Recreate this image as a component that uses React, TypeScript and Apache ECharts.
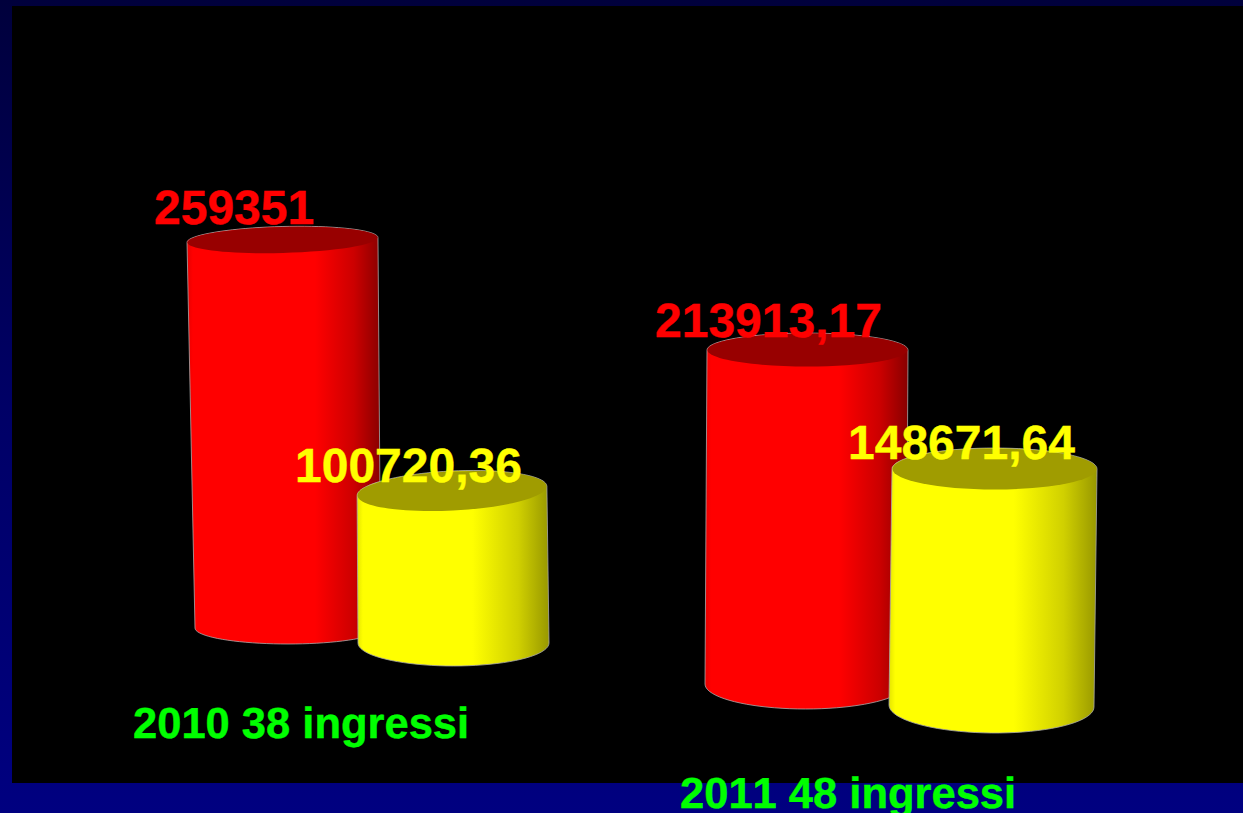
import React, { useEffect, useRef } from "react";
import * as echarts from "echarts";

const redValues = [259351, 213913.17];
const yellowValues = [100720.36, 148671.64];
const redLabels = ["259351", "213913,17"];
const yellowLabels = ["100720,36", "148671,64"];
const categoryLabels = ["2010 38 ingressi", "2011 48 ingressi"];

const FONT = '"Liberation Sans", Arial, sans-serif';
const RED = {
  text: "#ff0000",
  top: "#980000",
  stops: [
    [0, "#e60000"],
    [0.03, "#ff0000"],
    [0.66, "#ff0000"],
    [0.86, "#cc0000"],
    [1, "#880000"],
  ],
};
const YELLOW = {
  text: "#ffff00",
  top: "#a09c00",
  stops: [
    [0, "#e6e600"],
    [0.03, "#ffff00"],
    [0.6, "#ffff00"],
    [0.84, "#d0d000"],
    [1, "#989800"],
  ],
};

const GRID_H = 420;
// Perspective layout of each cylinder (one hidden grid per cylinder).
const layouts = [
  { left: 195, width: 186, baseY: 628, baseRy: 16, baseRot: 0, topL: -8, topR: -3, topRy: 13.5, topRot: 0.026, pxPerUnit: 0.001496, labelX: 154, labelBase: 222, palette: RED },
  { left: 358, width: 191, baseY: 643, baseRy: 23, baseRot: 0, topL: -1, topR: -2, topRy: 20, topRot: 0.05, pxPerUnit: 0.001509, labelX: 295, labelBase: 480, palette: YELLOW },
  { left: 705, width: 201, baseY: 684, baseRy: 25, baseRot: 0, topL: 2, topR: 2, topRy: 17, topRot: 0, pxPerUnit: 0.001561, labelX: 655, labelBase: 335, palette: RED },
  { left: 889, width: 205, baseY: 706, baseRy: 27, baseRot: -0.01, topL: 3, topR: 3, topRy: 21, topRot: 0, pxPerUnit: 0.001594, labelX: 848, labelBase: 457, palette: YELLOW },
];
const cylinderValues = [redValues[0], yellowValues[0], redValues[1], yellowValues[1]];
const cylinderLabels = [redLabels[0], yellowLabels[0], redLabels[1], yellowLabels[1]];
const BASELINE_SHIFT = 38;

function cylinderRenderer(i: number) {
  const l = layouts[i];
  return (_p: any, api: any) => {
    const top = api.coord([0.5, api.value(1)]);
    const base = api.coord([0.5, 0]);
    const left = api.coord([0, 0])[0];
    const right = api.coord([1, 0])[0];
    const baseCx = (left + right) / 2;
    const baseRx = (right - left) / 2;
    const topLeft = left + l.topL;
    const topRight = right + l.topR;
    const topCx = (topLeft + topRight) / 2;
    const topRx = (topRight - topLeft) / 2;
    const topCy = top[1];
    const baseCy = base[1];
    const arc = (cx: number, cy: number, rx: number, ry: number, rot: number, from: number, to: number) => {
      const out: number[][] = [];
      const s = Math.sin(rot);
      const c = Math.cos(rot);
      for (let k = 0; k <= 40; k++) {
        const t = from + ((to - from) * k) / 40;
        const ex = rx * Math.cos(t);
        const ey = ry * Math.sin(t);
        out.push([cx + ex * c + ey * s, cy - ex * s + ey * c]);
      }
      return out;
    };
    const pts = [
      ...arc(topCx, topCy, topRx, l.topRy, l.topRot, Math.PI, 2 * Math.PI),
      ...arc(baseCx, baseCy, baseRx, l.baseRy, l.baseRot, 0, Math.PI),
    ];
    const stroke = "rgba(170,170,170,0.8)";
    return {
      type: "group",
      children: [
        {
          type: "polygon",
          shape: { points: pts },
          style: {
            fill: new echarts.graphic.LinearGradient(
              0, 0, 1, 0,
              l.palette.stops.map((st: any) => ({ offset: st[0], color: st[1] }))
            ),
            stroke,
            lineWidth: 1,
          },
        },
        {
          type: "ellipse",
          shape: { cx: 0, cy: 0, rx: topRx - 0.5, ry: l.topRy - 0.5 },
          x: topCx,
          y: topCy,
          rotation: l.topRot,
          style: { fill: l.palette.top },
        },
        {
          type: "text",
          x: l.labelX,
          y: l.labelBase - BASELINE_SHIFT,
          style: {
            text: cylinderLabels[i],
            fill: l.palette.text,
            stroke: l.palette.text,
            lineWidth: 0.4,
            font: `bold 48px ${FONT}`,
            align: "left",
            verticalAlign: "top",
          },
        },
      ],
    };
  };
}

export default function App() {
  const ref = useRef<HTMLDivElement>(null);
  useEffect(() => {
    document.body.style.margin = "0";
    const chart = echarts.init(ref.current!, null, { renderer: "svg" });
    chart.setOption({
      animation: false,
      backgroundColor: new echarts.graphic.LinearGradient(0, 0, 0, 1, [
        { offset: 0, color: "#00003c" },
        { offset: 0.5, color: "#000066" },
        { offset: 1, color: "#000080" },
      ]),
      grid: layouts.map((l) => ({
        left: l.left,
        width: l.width,
        top: l.baseY - GRID_H,
        height: GRID_H,
      })),
      xAxis: layouts.map((_, i) => ({ type: "value", gridIndex: i, min: 0, max: 1, show: false })),
      yAxis: layouts.map((l, i) => ({
        type: "value",
        gridIndex: i,
        min: 0,
        max: GRID_H / l.pxPerUnit,
        show: false,
      })),
      series: layouts.map((_, i) => ({
        type: "custom",
        xAxisIndex: i,
        yAxisIndex: i,
        z: 3 + i,
        clip: false,
        renderItem: cylinderRenderer(i),
        encode: { x: 0, y: 1 },
        data: [[0.5, cylinderValues[i]]],
      })),
      graphic: [
        {
          type: "rect",
          z: 1,
          shape: { x: 12, y: 6, width: 1231, height: 777 },
          style: { fill: "#000000" },
        },
        {
          type: "text",
          z: 20,
          x: 133,
          y: 702,
          style: { text: categoryLabels[0], fill: "#00ff00", stroke: "#00ff00", lineWidth: 0.4, font: `bold 43.5px ${FONT}` },
        },
        {
          type: "text",
          z: 20,
          x: 680,
          y: 772,
          style: { text: categoryLabels[1], fill: "#00ff00", stroke: "#00ff00", lineWidth: 0.4, font: `bold 43.5px ${FONT}` },
        },
      ],
    });
    return () => chart.dispose();
  }, []);
  return (
    <>
      <style>{`svg text { font-kerning: none !important; font-feature-settings: "kern" 0 !important; text-rendering: geometricPrecision; }`}</style>
      <div ref={ref} style={{ width: 1243, height: 813 }} />
    </>
  );
}
